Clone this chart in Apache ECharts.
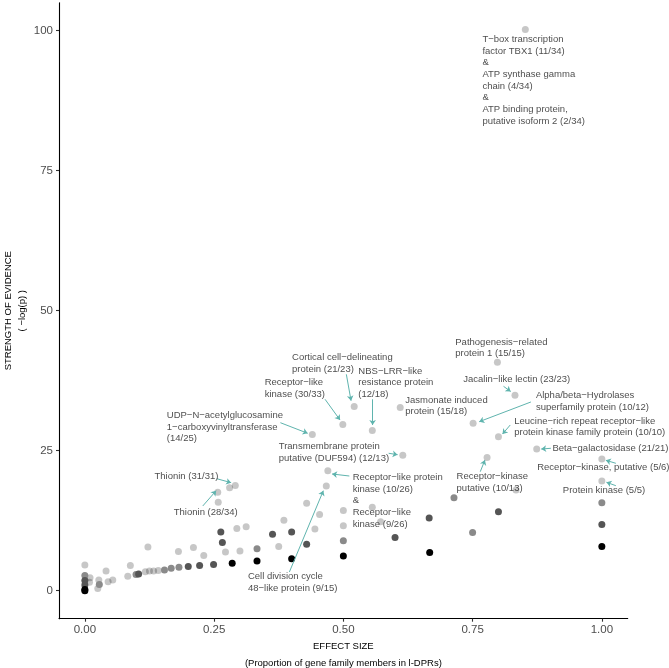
<!DOCTYPE html>
<html>
<head>
<meta charset="utf-8">
<script src="https://cdn.jsdelivr.net/npm/echarts@6/dist/echarts.min.js"></script>
<style>
html,body{margin:0;padding:0;background:#fff;}
#chart{width:669px;height:668px;}
</style>
</head>
<body>
<div id="chart"></div>
<script>
// ---- data: [effect size, -log(p)] grouped by point shade ----
const lightPoints = [
  [0.852,100.2],[0.798,40.8],[0.832,34.9],[0.610,32.7],[0.751,29.9],[0.800,27.5],
  [0.521,32.9],[0.499,29.7],[0.556,28.6],[0.440,27.9],[0.615,24.2],[0.470,21.4],
  [0.467,18.7],[0.874,25.3],[0.778,23.8],[1.000,23.5],[1.000,19.6],[0.834,18.0],
  [0.429,15.6],[0.385,12.6],[0.454,13.6],[0.445,11.0],[0.375,7.9],[0.500,14.3],
  [0.500,11.6],[0.556,14.9],[0.572,12.3],[0.291,18.8],[0.280,18.4],[0.257,17.6],
  [0.258,15.8],[0.294,11.1],[0.312,11.4],[0.272,6.9],[0.300,7.1],[0.122,7.8],
  [0.181,7.0],[0.210,7.7],[0.230,6.3],[0.088,4.5],[0.041,3.5],[0.000,4.6],
  [0.142,3.6],[0.133,3.5],[0.125,3.5],[0.117,3.4],[0.083,2.6],[0.054,1.9],
  [0.045,1.6],[0.027,1.9],[0.025,0.4],[0.009,1.5],[0.010,2.3]
];
const midPoints = [
  [0.182,4.2],[0.167,4.0],[0.154,3.7],[0.099,2.9],[0.028,1.1],[0.333,7.5],
  [0.500,8.9],[0.714,16.6],[0.750,10.4],[1.000,15.7],[0.000,2.7]
];
const darkPoints = [
  [0.249,4.7],[0.222,4.5],[0.200,4.3],[0.104,3.0],[0.363,10.1],[0.400,10.5],
  [0.429,8.3],[0.263,10.5],[0.266,8.6],[0.600,9.5],[0.666,13.0],[0.800,14.1],
  [1.000,11.8],[0.000,1.8],[0.000,1.0]
];
const blackPoints = [
  [0.000,0.0],[0.000,0.2],[0.285,4.9],[0.333,5.3],[0.400,5.7],[0.500,6.2],
  [0.667,6.8],[1.000,7.9]
];

const xTicks = [0, 0.25, 0.5, 0.75, 1];
const yTicks = [0, 25, 50, 75, 100];

// annotation texts
const annTexts = [
  'T−box transcription\nfactor TBX1 (11/34)\n&\nATP synthase gamma\nchain (4/34)\n&\nATP binding protein,\nputative isoform 2 (2/34)',
  'Pathogenesis−related\nprotein 1 (15/15)',
  'Jacalin−like lectin (23/23)',
  'Alpha/beta−Hydrolases\nsuperfamily protein (10/12)',
  'Leucine−rich repeat receptor−like\nprotein kinase family protein (10/10)',
  'Beta−galactosidase (21/21)',
  'Receptor−kinase, putative (5/6)',
  'Protein kinase (5/5)',
  'Receptor−kinase\nputative (10/13)',
  'Jasmonate induced\nprotein (15/18)',
  'Cortical cell−delineating\nprotein (21/23)',
  'NBS−LRR−like\nresistance protein\n(12/18)',
  'Receptor−like\nkinase (30/33)',
  'UDP−N−acetylglucosamine\n1−carboxyvinyltransferase\n(14/25)',
  'Transmembrane protein\nputative (DUF594) (12/13)',
  'Receptor−like protein\nkinase (10/26)\n&\nReceptor−like\nkinase (9/26)',
  'Cell division cycle\n48−like protein (9/15)',
  'Thionin (31/31)',
  'Thionin (28/34)'
];
// top-left anchor of each annotation text, in data units
const annAnchors = [
  [0.769,99.5],[0.7165,45.46],[0.7319,38.79],[0.8724,35.94],[0.8305,31.35],
  [0.9045,26.47],[0.875,23.01],[0.9246,18.9],[0.719,21.4],[0.6198,35.1],
  [0.4008,42.72],[0.529,40.28],[0.3479,38.19],[0.1585,32.37],[0.375,26.76],
  [0.518,21.29],[0.3154,3.54],[0.1347,21.4],[0.172,15.1]
];
// annotation arrows, from -> to, in data units
const annArrows = [
  [[0.8098,36.5],[0.8237,35.57]],
  [[0.8628,33.7],[0.7628,30.18]],
  [[0.8228,29.59],[0.8079,27.98]],
  [[0.9014,25.43],[0.8827,25.3]],
  [[1.0271,22.75],[1.0077,23.29]],
  [[1.0271,18.75],[1.0089,19.36]],
  [[0.7648,21.25],[0.7739,23.34]],
  [[0.5058,38.64],[0.5149,33.93]],
  [[0.5566,34.18],[0.5566,29.59]],
  [[0.4646,34.18],[0.4936,30.48]],
  [[0.3782,30.0],[0.431,28.11]],
  [[0.5876,24.54],[0.6049,24.29]],
  [[0.5116,20.48],[0.4782,20.84]],
  [[0.3956,3.34],[0.4613,17.86]],
  [[0.2551,20.0],[0.283,19.29]],
  [[0.2281,15.13],[0.254,17.86]]
];

const FONT = '"Liberation Sans", Arial, Helvetica, sans-serif';
const chart = echarts.init(document.getElementById('chart'), null, {renderer: 'canvas'});

function pointSeries(data, color) {
  return {
    type: 'scatter', data: data, symbolSize: 7, silent: true,
    itemStyle: {color: color, borderWidth: 0, opacity: 1}, z: 3
  };
}

const option = {
  animation: false,
  backgroundColor: '#ffffff',
  grid: {left: 59, right: 41.3, top: 2.7, bottom: 49.3, containLabel: false, outerBoundsMode: 'none'},
  xAxis: {
    type: 'value', min: -0.05, max: 1.05,
    splitLine: {show: false},
    axisLine: {show: true, onZero: false, lineStyle: {color: '#000', width: 1.1}},
    axisTick: {show: true, length: 3, lineStyle: {color: '#333', width: 1.1}, customValues: xTicks},
    axisLabel: {show: true, customValues: xTicks, margin: 5, color: '#4d4d4d', fontSize: 11.5, fontFamily: FONT,
      formatter: v => v.toFixed(2)},
    name: '{a|EFFECT SIZE}\n{b|(Proportion of gene family members in l-DPRs)}',
    nameLocation: 'middle', nameGap: 19,
    nameTextStyle: {rich: {
      a: {fontSize: 9.5, fontFamily: FONT, color: '#000', lineHeight: 17},
      b: {fontSize: 9.5, fontFamily: FONT, color: '#000', lineHeight: 17}
    }}
  },
  yAxis: {
    type: 'value', min: -5, max: 105,
    splitLine: {show: false},
    axisLine: {show: true, onZero: false, lineStyle: {color: '#000', width: 1.1}},
    axisTick: {show: true, length: 3, lineStyle: {color: '#333', width: 1.1}, customValues: yTicks},
    axisLabel: {show: true, customValues: yTicks, margin: 6, color: '#4d4d4d', fontSize: 11.5, fontFamily: FONT},
    name: '{a|STRENGTH OF EVIDENCE}\n{b|( −log(p) )}',
    nameLocation: 'middle', nameGap: 30, nameRotate: 90, nameMoveOverlap: false,
    nameTextStyle: {rich: {
      a: {fontSize: 9.5, fontFamily: FONT, color: '#000', lineHeight: 14},
      b: {fontSize: 9.5, fontFamily: FONT, color: '#000', lineHeight: 14}
    }}
  },
  series: [
    pointSeries(lightPoints, 'rgba(0,0,0,0.22)'),
    pointSeries(midPoints, '#8a8a8a'),
    pointSeries(darkPoints, '#555555'),
    pointSeries(blackPoints, '#000000'),
    {
      type: 'lines', coordinateSystem: 'cartesian2d', polyline: false, silent: true, z: 4,
      symbol: ['none', 'arrow'], symbolSize: 5,
      lineStyle: {color: '#5fb4ae', width: 1, opacity: 1, curveness: 0},
      data: annArrows.map(a => ({coords: a}))
    },
    {
      type: 'scatter', silent: true, z: 5, symbolSize: 0,
      itemStyle: {color: 'rgba(0,0,0,0)'},
      label: {show: true, position: [0, 0], align: 'left', verticalAlign: 'top',
        fontSize: 9.5, lineHeight: 11.7, fontFamily: FONT, color: '#1a1a1a',
        formatter: p => p.name},
      data: annAnchors.map((a, i) => ({name: annTexts[i], value: a}))
    }
  ]
};
chart.setOption(option);
</script>
</body>
</html>
